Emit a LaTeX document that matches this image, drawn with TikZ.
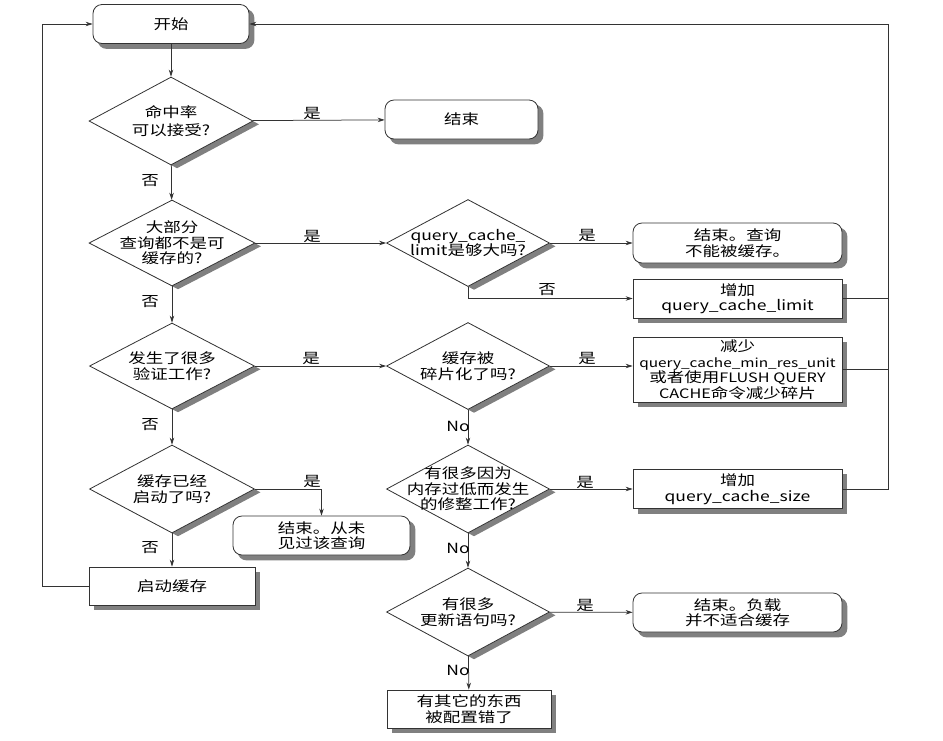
\documentclass[tikz,border=0pt]{standalone}
\usepackage{fontspec}
\setmainfont[FakeStretch=1.25]{Noto Sans CJK SC}
\usetikzlibrary{shapes.geometric,arrows.meta,calc}
\pgfdeclarelayer{background}
\pgfsetlayers{background,main}
\newcommand\mkdia[6]{%
  \begin{pgfonlayer}{background}
  \node[dshd, minimum width=#4pt, minimum height=#5pt] (#1s) at (#2+6,#3+3.3) {};
  \end{pgfonlayer}
  \node[dia, minimum width=#4pt, minimum height=#5pt] (#1) at (#2,#3) {};
  \node[dtext] (#1t) at (#2,#3) {#6};
}
\begin{document}
\begin{tikzpicture}[x=1pt,y=-1pt,
  every node/.style={font=\fontsize{14}{15.5}\selectfont, text=black},
  line/.style={draw=black!80, line width=0.75pt},
  arr/.style={line, -{Stealth[length=7pt,width=4.5pt]}},
  term/.style={draw=black!80, line width=0.8pt, rounded corners=9pt, fill=white, align=center, inner sep=0pt},
  proc/.style={draw=black!80, line width=0.8pt, fill=white, align=center, inner sep=0pt},
  dia/.style={diamond, draw=black!80, line width=0.8pt, fill=white, inner sep=0pt},
  dshd/.style={diamond, fill=black!50, draw=none, inner sep=0pt},
  dtext/.style={align=center, inner sep=0pt},
  lab/.style={inner sep=0pt},
  shdc/.style={fill=black!50, draw=none}
]
\useasboundingbox (0,0) rectangle (943,740);
\begin{pgfonlayer}{background}
\fill[white] (0,0) rectangle (943,740);
\end{pgfonlayer}

% shapes
\node[term, minimum width=156pt, minimum height=39pt] (start) at (171,24) {开始};
\mkdia{d1}{171}{121}{164}{88}{命中率\\[3pt]可以接受?}
\node[term, minimum width=153pt, minimum height=39pt] (e1) at (461.5,119.5) {结束};

\mkdia{d2}{172}{243}{166}{86}{大部分\\查询都不是可\\缓存的?}
\mkdia{d3}{468}{243}{163}{87}{query\_cache\_\\limit是够大吗?}
\node[term, minimum width=209pt, minimum height=40pt] (e2) at (737.5,243) {结束。查询\\不能被缓存。};
\node[proc, minimum width=209pt, minimum height=39pt] (bl) at (737.5,298.5) {增加\\query\_cache\_limit};

\mkdia{d7}{172}{366}{165}{86}{发生了很多\\验证工作?}
\mkdia{d4}{468}{366}{163}{87}{缓存被\\碎片化了吗?}
\node[proc, minimum width=209pt, minimum height=65pt] (bm) at (737.5,369.5) {减少\\{\fontsize{12.3}{15.5}\selectfont query\_cache\_min\_res\_unit}\\或者使用{\fontsize{13}{15.5}\selectfont FLUSH QUERY}\\{\fontsize{13}{15.5}\selectfont CACHE}命令减少碎片};

\mkdia{d8}{172}{489}{165}{88}{缓存已经\\启动了吗?}
\mkdia{d5}{468}{489}{163}{88}{有很多因为\\内存过低而发生\\的修整工作?}
\node[proc, minimum width=209pt, minimum height=39pt] (bs) at (737.5,489) {增加\\query\_cache\_size};

\node[term, minimum width=177pt, minimum height=39pt] (e4) at (321.5,535.5) {结束。从未\\见过该查询};
\node[proc, minimum width=166pt, minimum height=38pt] (sc) at (172,586) {启动缓存};

\mkdia{d6}{468}{612}{163}{88}{有很多\\更新语句吗?}
\node[term, minimum width=209pt, minimum height=39pt] (e3) at (737.5,612.5) {结束。负载\\并不适合缓存};
\node[proc, minimum width=164pt, minimum height=38pt] (fin) at (469,709) {有其它的东西\\被配置错了};

\coordinate (rj) at (888,24);

% box shadows (picture units: +x right, +y down)
\begin{pgfonlayer}{background}
\foreach \n in {start,e1,e2,e4,e3}
  \fill[shdc, rounded corners=9pt] ($(\n.south west)+(5,5)$) rectangle ($(\n.north east)+(5,5)$);
\foreach \n in {bl,bm,bs,sc,fin}
  \fill[shdc] ($(\n.south west)+(5,5)$) rectangle ($(\n.north east)+(5,5)$);
\end{pgfonlayer}

% connectors
\draw[arr] (start) -- (d1);
\draw[arr] (d1) -- (e1);
\draw[arr] (d1) -- (d2);
\draw[arr] (d2) -- (d3);
\draw[arr] (d2) -- (d7);
\draw[arr] (d3) -- (e2);
\draw[arr] (d3.south) |- (bl.west);
\draw[arr] (d7) -- (d4);
\draw[arr] (d7) -- (d8);
\draw[arr] (d4.east) -- (d4.east -| bm.west);
\draw[arr] (d4) -- (d5);
\draw[arr] (d5) -- (bs);
\draw[arr] (d5) -- (d6);
\draw[arr] (d6) -- (e3);
\draw[arr] (d6) -- (fin);
\draw[arr] (d8.east) -| (e4.north);
\draw[arr] (d8) -- (sc);
\draw[arr] (sc.west) -- ++(-46,0) |- (start.west);
\draw[arr] (bs.east) -| (rj) -- (start.east);
\draw[line] (bl.east) -- (bl.east -| rj);
\draw[line] (bm.east) -- (bm.east -| rj);

% labels
\node[lab] (l1) at (312,113) {是};
\node[lab] (l2) at (150,181) {否};
\node[lab] (l3) at (312,236) {是};
\node[lab] (l4) at (150,302) {否};
\node[lab] (l5) at (587,235) {是};
\node[lab] (l6) at (547,290) {否};
\node[lab] (l7) at (311,358) {是};
\node[lab] (l8) at (150,425) {否};
\node[lab] (l9) at (587,358) {是};
\node[lab] (l10) at (458,426) {No};
\node[lab] (l11) at (585,482) {是};
\node[lab] (l12) at (458,548) {No};
\node[lab] (l13) at (585,605) {是};
\node[lab] (l14) at (458,670) {No};
\node[lab] (l15) at (312,481) {是};
\node[lab] (l16) at (150,548) {否};
\end{tikzpicture}
\end{document}
